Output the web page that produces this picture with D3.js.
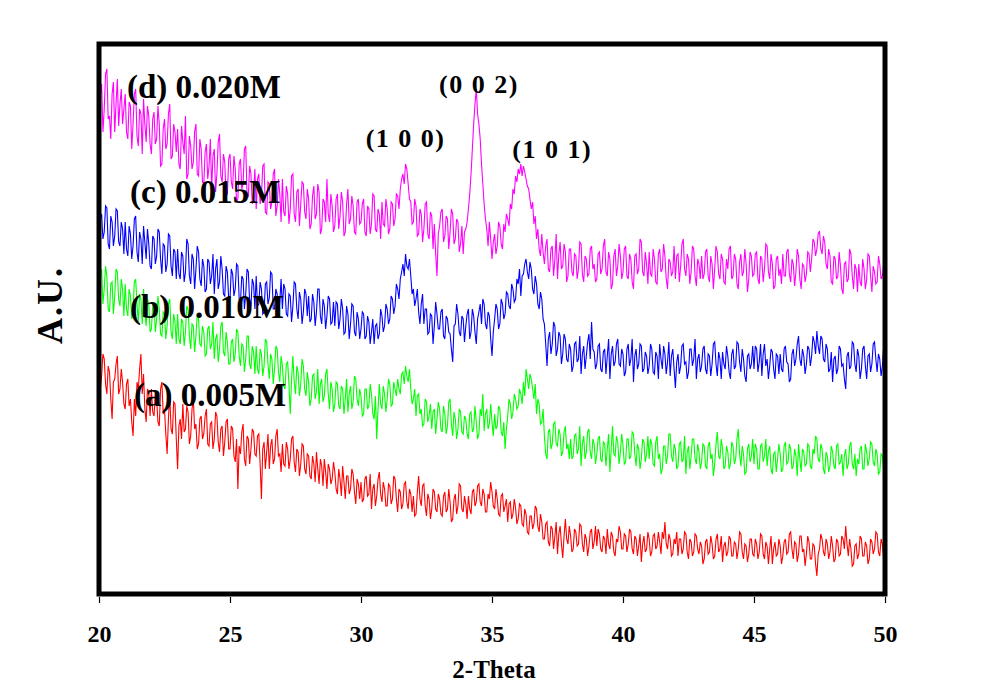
<!DOCTYPE html>
<html>
<head>
<meta charset="utf-8">
<script src="https://cdn.jsdelivr.net/npm/d3@7"></script>
<style>
  html, body { margin: 0; padding: 0; background: #fff; }
  svg text { font-family: "Liberation Serif", "Times New Roman", serif; font-weight: bold; fill: #000; }
</style>
</head>
<body>
<svg id="chart" width="1007" height="696"></svg>
<script>
// ---- data (intensity in arbitrary units, sampled every 0.05 deg from 20 to 50) ----
const thetaStart = 20;
const thetaStep = 0.05;
const xTicks = [20, 25, 30, 35, 40, 45, 50];
const xLabel = "2-Theta";
const yLabel = "A.U.";
const seriesNames = ["(a) 0.005M", "(b) 0.010M", "(c) 0.015M", "(d) 0.020M"];
const peakLabels = ["(1 0 0)", "(0 0 2)", "(1 0 1)"];
const peakLabelTheta = [31.7, 34.5, 37.3];
const peakLabelValue = [447, 501, 436];

const seriesA = [
225,205,218,240,235,210,200,228,222,195,175,212,215,230,238,200,205,225,212,190,
185,210,215,188,195,172,158,195,178,212,205,225,240,200,220,185,172,205,200,178,
205,182,178,200,195,172,168,205,212,180,185,160,140,175,200,165,160,192,190,155,
125,168,175,155,190,162,165,188,182,150,158,185,195,165,170,145,150,175,178,155,
160,178,185,150,148,170,172,145,155,182,178,152,142,165,168,138,152,172,175,145,
145,168,165,138,132,155,105,148,140,162,170,135,128,158,155,130,145,165,162,140,
138,158,160,130,95,145,152,125,142,160,125,148,155,130,135,158,165,138,140,122,
150,130,128,152,145,125,135,155,158,132,122,145,142,118,130,150,148,125,120,140,
138,118,115,138,130,112,142,125,110,135,128,108,135,122,105,130,125,110,115,132,
122,105,100,125,115,98,128,112,95,118,118,100,105,125,120,102,90,115,110,95,
112,92,95,115,118,98,100,120,85,105,110,88,98,115,122,100,92,112,105,88,
88,110,108,90,95,118,115,95,82,105,102,85,90,110,112,92,85,105,100,82,
98,78,80,102,118,95,88,108,110,88,78,100,95,75,85,105,102,85,82,100,
95,80,78,98,102,82,85,105,92,72,75,95,100,80,88,110,108,85,82,98,
90,75,98,85,80,102,105,88,92,108,110,92,88,105,100,82,82,100,95,112,
102,88,85,105,95,80,78,98,100,82,88,95,72,90,92,75,80,95,86,70,
75,90,88,70,68,85,80,62,60,78,78,65,70,88,85,68,62,80,72,55,
55,70,72,52,48,68,65,45,58,72,40,60,68,50,36,58,75,55,50,68,
58,42,45,65,62,48,50,70,68,50,42,60,55,38,48,62,65,45,52,68,
48,65,60,45,42,58,55,40,65,50,45,62,58,42,38,55,52,68,62,45,
45,60,58,42,50,65,62,45,40,58,55,38,48,60,32,50,58,42,45,62,
55,38,42,58,60,45,48,62,52,40,62,55,72,50,45,60,55,38,40,55,
50,62,38,55,55,40,45,62,60,42,35,55,52,38,42,60,58,45,40,52,
48,30,35,52,55,40,42,58,50,35,38,55,60,42,45,58,32,48,52,38,
42,58,55,38,38,52,50,35,45,62,60,42,35,50,48,32,40,55,55,40,
38,55,50,35,42,60,58,40,35,52,48,30,45,58,30,45,52,38,40,55,
48,30,38,52,55,40,42,60,62,45,35,52,50,32,40,58,58,42,45,28,
40,58,52,35,35,50,48,30,18,40,45,60,55,42,38,55,50,35,42,58,
48,32,35,55,52,38,40,58,55,45,68,50,38,55,45,28,30,48,50,35,
40,58,55,38,38,52,48,30,35,55,52,40,45,62,60,42,38,55,50,35,
45];

const seriesB = [
295,318,325,290,305,328,318,285,282,310,312,280,298,325,322,295,288,315,305,278,
310,285,278,305,298,275,285,312,315,290,272,300,295,270,305,282,268,295,290,262,
265,288,292,262,275,298,285,260,258,282,280,255,268,290,295,262,255,280,272,250,
280,255,250,275,272,248,262,288,285,258,245,270,268,242,258,280,275,250,248,268,
262,238,240,265,268,245,250,272,235,255,260,232,245,268,272,242,238,262,252,230,
230,252,255,232,240,265,262,238,228,250,248,222,235,258,258,230,225,248,242,220,
248,225,220,245,240,218,228,255,252,230,215,240,235,210,225,248,245,222,212,238,
228,208,205,230,232,210,180,215,238,212,200,228,222,198,210,235,228,205,198,222,
212,188,195,218,220,195,202,225,190,210,215,192,198,220,225,200,185,212,205,182,
190,212,210,188,185,208,205,180,195,215,182,200,208,185,192,218,215,195,188,205,
198,178,180,205,205,185,188,210,200,180,175,198,155,185,210,190,185,208,200,182,
195,215,210,188,190,212,205,198,215,205,200,220,222,210,228,218,212,225,205,190,
195,205,178,198,200,180,185,168,170,195,192,172,178,190,165,182,185,160,175,192,
185,165,162,188,180,160,168,192,195,170,158,182,175,155,165,185,182,162,160,178,
175,160,155,180,182,162,165,188,172,155,160,185,178,200,163,180,185,165,170,190,
172,158,180,165,168,188,185,162,158,172,145,165,178,195,190,175,182,200,195,185,
188,205,200,190,212,198,225,215,205,220,215,205,195,210,180,195,190,170,172,185,
158,140,135,162,165,145,150,170,172,150,148,165,160,138,142,162,168,145,150,135,
155,135,138,158,160,140,145,168,128,150,158,135,142,162,165,142,135,155,150,130,
140,155,158,135,132,152,150,128,145,160,122,145,168,140,138,158,152,130,142,160,
148,130,132,155,155,135,138,162,160,140,128,150,145,125,135,155,152,132,140,158,
135,155,150,130,128,152,158,135,140,120,125,148,148,130,138,160,160,138,132,150,
145,125,128,150,152,132,135,158,120,142,148,125,138,155,155,135,130,150,142,125,
132,150,148,128,125,148,152,135,140,118,130,150,162,138,135,155,145,125,128,148,
142,125,130,152,148,130,135,155,165,140,128,148,140,120,122,145,150,132,138,155,
130,150,145,125,125,148,150,132,138,155,128,142,148,125,120,140,142,122,135,150,
140,122,125,148,152,130,132,150,145,125,128,145,138,118,150,135,122,145,142,128,
130,150,148,128,125,145,140,158,155,135,132,150,145,125,120,142,138,122,128,148,
142,128,125,148,150,130,132,140,118,138,145,125,130,148,152,130,125,140,118,135,
130,145,148,125,125,150,142,128,135,152,150,132,128,145,140,120,122,140,138,125,
135];

const seriesC = [
350,375,380,355,362,388,386,350,345,378,372,348,358,385,383,352,348,372,365,340,
372,345,338,368,360,335,348,375,378,342,332,362,355,330,368,352,335,365,350,328,
325,358,355,330,338,365,362,335,320,350,348,322,330,360,358,328,318,345,342,315,
345,320,315,342,338,312,322,355,350,318,310,340,335,305,325,348,342,315,308,335,
328,302,305,335,332,310,318,340,300,325,335,305,312,338,325,300,298,328,322,295,
295,325,320,298,305,330,328,295,292,318,315,285,300,325,322,292,288,315,310,285,
318,288,290,312,305,280,282,310,312,290,296,322,320,285,285,305,300,278,292,315,
285,310,305,280,278,300,298,272,288,312,310,285,275,302,295,270,282,305,300,278,
298,272,275,300,292,268,282,305,305,278,270,295,288,265,278,298,295,270,272,292,
268,292,290,265,275,295,285,260,262,288,280,255,270,290,288,262,258,282,275,255,
265,282,280,255,258,278,272,250,262,275,250,268,270,255,260,285,278,262,268,290,
285,270,275,298,295,280,288,310,305,295,315,322,330,318,340,328,325,335,318,300,
305,288,295,305,282,270,290,300,270,285,285,260,262,280,278,250,268,292,280,265,
265,282,285,258,255,278,275,262,260,245,232,268,270,290,280,262,258,278,275,252,
268,280,285,255,262,285,278,262,250,275,282,290,270,295,290,270,265,282,278,255,
238,262,275,290,285,265,270,295,290,275,280,302,300,288,285,310,305,292,295,315,
310,325,298,318,320,330,335,322,315,332,325,305,300,318,310,290,285,302,295,275,
270,250,228,255,262,240,250,272,268,238,245,262,258,230,240,260,255,235,232,250,
245,222,228,250,252,232,235,258,220,240,248,225,238,252,260,235,272,245,242,225,
230,248,250,225,222,242,245,220,238,255,215,240,248,228,232,250,255,230,228,245,
240,218,222,245,250,228,235,255,212,238,245,225,230,250,248,222,225,242,238,220,
228,250,245,222,220,242,238,215,250,235,225,248,240,220,232,252,218,238,245,225,
206,232,240,220,228,248,250,230,232,215,222,245,245,228,235,255,215,235,240,222,
228,245,248,225,220,240,238,218,230,250,252,230,218,242,235,215,242,230,225,248,
238,222,215,240,245,225,228,252,250,232,222,245,235,218,212,238,240,225,230,248,
225,248,245,222,232,250,218,240,250,228,235,215,228,245,242,225,215,240,238,220,
240,225,222,245,248,232,230,212,215,240,245,228,235,250,258,235,228,245,238,220,
230,248,245,228,238,258,252,240,263,248,240,258,255,235,232,250,245,222,225,242,
212,235,238,220,225,248,245,228,230,215,205,238,242,225,228,252,250,230,222,245,
238,215,225,245,248,228,215,238,240,222,230,250,252,235,222,240,235,218,228,248,
240];

const seriesD = [
470,498,510,462,485,520,525,475,478,455,500,512,462,490,515,468,490,505,470,485,
500,462,455,492,488,445,470,500,505,458,448,485,480,440,495,470,452,488,478,450,
440,475,482,450,455,488,470,428,430,465,475,445,450,480,490,435,438,470,462,442,
465,430,425,468,452,440,478,415,420,458,448,425,432,462,470,420,418,455,445,412,
410,442,450,415,428,455,405,438,445,402,420,452,460,418,412,440,432,398,400,435,
440,412,405,438,425,392,395,430,435,405,410,445,448,400,398,428,420,390,402,425,
385,415,420,390,398,428,430,382,380,412,410,385,392,420,425,378,388,415,400,372,
415,382,378,408,400,370,385,418,420,380,372,402,405,368,390,412,410,382,375,405,
395,365,370,398,408,375,380,410,402,360,365,395,392,372,415,380,372,400,388,362,
368,395,400,365,378,402,392,358,362,390,405,370,375,398,388,362,360,392,395,370,
372,390,395,362,358,388,385,360,370,400,398,365,362,385,380,355,392,370,368,395,
385,360,365,392,390,368,375,400,398,385,405,415,420,410,430,425,410,395,392,370,
372,395,388,358,360,385,380,352,365,390,392,360,355,382,378,345,370,340,318,360,
368,382,385,352,358,378,375,345,362,385,380,350,355,375,372,342,350,368,340,362,
365,372,385,400,420,445,470,490,505,480,470,455,430,410,390,375,365,348,372,355,
335,352,360,340,348,372,368,350,345,370,362,380,375,368,390,385,405,400,418,412,
425,420,430,418,428,422,415,408,405,395,385,392,370,378,355,365,345,338,360,342,
330,348,355,325,322,345,348,318,335,360,315,340,352,325,328,350,342,312,318,345,
345,322,318,340,338,315,325,352,350,320,312,338,335,318,320,345,348,325,330,312,
315,340,342,320,325,348,355,322,318,342,335,305,310,338,345,318,328,350,338,315,
322,345,348,318,315,340,335,312,305,338,340,320,325,355,352,322,318,342,330,310,
342,320,318,345,335,312,310,340,345,322,325,350,338,315,305,335,332,318,322,348,
315,338,340,312,328,350,355,325,318,340,335,310,322,348,345,318,308,335,330,315,
338,315,320,342,345,318,312,338,330,305,325,348,342,320,315,340,335,312,310,335,
325,345,348,315,318,340,335,310,305,332,340,318,322,345,330,302,315,342,338,318,
320,340,342,315,310,338,335,312,325,350,348,322,315,340,330,305,308,335,338,318,
325,310,340,318,318,342,345,320,312,335,330,308,322,345,338,315,305,330,328,312,
320,342,340,322,335,355,352,338,345,360,363,345,340,358,352,330,325,345,338,312,
310,338,335,315,318,342,328,305,300,330,332,312,315,345,340,318,305,330,325,302,
330,312,308,335,325,305,315,340,338,318,302,328,322,310,312,338,330,315,318,330,
321];

// ---- drawing ----
const allSeries = [seriesA, seriesB, seriesC, seriesD];
const colors = ["#ff0000", "#00ff00", "#0000ff", "#ff00ff"];
const svg = d3.select("#chart");

const mLeft = 99, mRight = 885, mTop = 44, mBottom = 594;
const x = d3.scaleLinear().domain([20, 50]).range([mLeft, mRight]);
const y = d3.scaleLinear().domain([0, 550]).range([mBottom, mTop]);

const line = d3.line()
  .x((d, i) => x(thetaStart + i * thetaStep))
  .y(d => y(d));

svg.append("g").selectAll("path")
  .data(allSeries)
  .join("path")
  .attr("d", d => line(d))
  .attr("fill", "none")
  .attr("stroke", (d, i) => colors[i])
  .attr("stroke-width", 1.1)
  .attr("stroke-linejoin", "miter");

// frame
svg.append("rect")
  .attr("x", mLeft).attr("y", mTop)
  .attr("width", mRight - mLeft).attr("height", mBottom - mTop)
  .attr("fill", "none").attr("stroke", "#000").attr("stroke-width", 5);

// x axis
const xAxis = d3.axisBottom(x).tickValues(xTicks).tickSize(6).tickPadding(22).tickFormat(d3.format("d"));
const gx = svg.append("g").attr("transform", `translate(0,${mBottom + 3})`).call(xAxis);
gx.attr("font-family", '"Liberation Serif", "Times New Roman", serif').attr("font-size", 24);
gx.select(".domain").remove();
gx.selectAll(".tick line").attr("stroke", "#000").attr("stroke-width", 1.2);
gx.selectAll(".tick text")
  .attr("font-size", 24)
  .attr("font-family", '"Liberation Serif", "Times New Roman", serif')
  .attr("font-weight", "bold")
  .attr("fill", "#000");

svg.append("text")
  .attr("x", 494).attr("y", 678)
  .attr("text-anchor", "middle")
  .attr("font-size", 25)
  .text(xLabel);

svg.append("text")
  .attr("transform", "translate(62,305) rotate(-90)")
  .attr("text-anchor", "middle")
  .attr("font-size", 36)
  .attr("letter-spacing", 2)
  .text(yLabel);

// series labels
const seriesLabelPos = [[134, 406], [130, 318], [130, 203], [127, 98]];
svg.append("g").selectAll("text")
  .data(seriesNames)
  .join("text")
  .attr("x", (d, i) => seriesLabelPos[i][0])
  .attr("y", (d, i) => seriesLabelPos[i][1])
  .attr("font-size", 33)
  .text(d => d);

// peak labels
svg.append("g").selectAll("text")
  .data(peakLabels)
  .join("text")
  .attr("x", (d, i) => x(peakLabelTheta[i]))
  .attr("y", (d, i) => y(peakLabelValue[i]))
  .attr("text-anchor", "middle")
  .attr("font-size", 26)
  .attr("letter-spacing", 1.5)
  .text(d => d);
</script>
</body>
</html>
